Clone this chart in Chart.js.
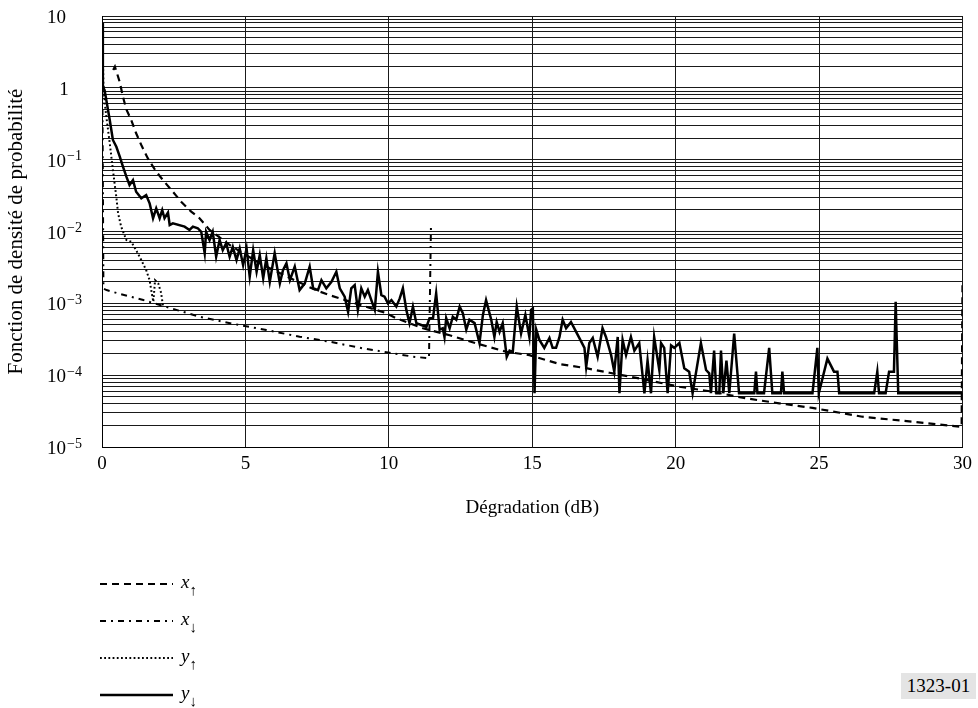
<!DOCTYPE html>
<html>
<head>
<meta charset="utf-8">
<script src="https://cdn.jsdelivr.net/npm/chart.js@4.4.0/dist/chart.umd.min.js"></script>
<style>
  body { margin: 0; background: #fff; }
  #wrap { position: relative; width: 978px; height: 708px; }
  #ref { position: absolute; left: 901px; top: 673px; width: 75px; height: 26px; background: #e4e4e4;
         font: 19px "Liberation Serif", serif; line-height: 26px; text-align: center; color: #000; }
</style>
</head>
<body>
<div id="wrap">
  <canvas id="pdf" width="978" height="708"></canvas>
  <div id="ref">1323-01</div>
</div>
<script>
const serif = '"Liberation Serif", "Times New Roman", serif';

// y axis decades and their labels (base + exponent)
const decadeValues = [10, 1, 0.1, 0.01, 0.001, 0.0001, 0.00001];
const decadeBase = ['10', '1', '10', '10', '10', '10', '10'];
const decadeExp = ['', '', '−1', '−2', '−3', '−4', '−5'];
const gridSteps = [1, 2, 3, 4, 5, 6, 7, 8, 9];

// series as [dB, density]
const xUp = [[0.39, 1.77], [0.45, 1.97], [0.62, 1.2], [0.73, 0.75], [0.85, 0.5], [1.02, 0.356], [1.19, 0.233],
  [1.37, 0.160], [1.60, 0.104], [1.89, 0.068], [2.18, 0.049], [2.47, 0.0358], [2.76, 0.026], [3.11, 0.0189],
  [3.40, 0.0153], [3.75, 0.0105], [4.5, 0.0063], [5.5, 0.0036], [6.5, 0.0023], [7.5, 0.0015], [7.94, 0.0013],
  [9.91, 7.3e-4], [10.26, 6.2e-4], [11.19, 4.5e-4], [11.42, 4.25e-4], [12.12, 3.6e-4], [13.05, 2.77e-4],
  [14.09, 2.12e-4], [14.90, 1.9e-4], [15.95, 1.43e-4], [16.88, 1.25e-4], [17.69, 1.08e-4], [18.73, 9.0e-5],
  [20.13, 6.9e-5], [21.28, 5.9e-5], [22.45, 4.76e-5], [23.61, 4.06e-5], [24.77, 3.5e-5], [26.51, 2.64e-5],
  [28.25, 2.25e-5], [29.97, 1.91e-5], [30, 2.0e-3]];

const xDown = [[0, 9], [0.05, 1.6e-3], [0.16, 1.53e-3], [0.63, 1.35e-3], [1.44, 1.11e-3], [2.13, 9.2e-4],
  [3.41, 6.5e-4], [4.56, 5.2e-4], [5.73, 4.25e-4], [6.89, 3.43e-4], [7.94, 2.92e-4], [9.10, 2.36e-4],
  [10.03, 2.05e-4], [10.84, 1.81e-4], [11.4, 1.72e-4], [11.47, 0.0127]];

const yUp = [[0, 7], [0.05, 1.2], [0.1, 0.6], [0.15, 0.40], [0.27, 0.17], [0.38, 0.072], [0.5, 0.030],
  [0.56, 0.018], [0.67, 0.0116], [0.85, 0.0076], [1.02, 0.0072], [1.19, 0.0055], [1.37, 0.0040],
  [1.54, 0.0029], [1.66, 0.0021], [1.72, 0.0015], [1.79, 0.00105], [1.85, 0.0021], [1.96, 0.0019],
  [2.06, 0.0014], [2.13, 0.0009]];

const yDown = [[0, 8], [0.03, 1.03], [0.09, 0.93], [0.15, 0.68], [0.27, 0.357], [0.38, 0.188], [0.50, 0.151],
  [0.62, 0.110], [0.73, 0.080], [0.85, 0.058], [0.96, 0.0444], [1.08, 0.052], [1.19, 0.0358], [1.37, 0.029],
  [1.54, 0.0322], [1.66, 0.0247], [1.78, 0.0153], [1.89, 0.021], [2.01, 0.0153], [2.10, 0.0199], [2.18, 0.0153],
  [2.30, 0.0183], [2.36, 0.0123], [2.47, 0.0130], [2.88, 0.0117], [3.05, 0.0105], [3.17, 0.0117], [3.34, 0.0111],
  [3.46, 0.0099], [3.58, 0.0050], [3.63, 0.0099], [3.75, 0.0076], [3.86, 0.0099], [3.98, 0.00446], [4.10, 0.0076],
  [4.21, 0.0055], [4.33, 0.00685], [4.45, 0.00446], [4.56, 0.0061], [4.69, 0.0040], [4.80, 0.0058], [4.92, 0.0034],
  [5.04, 0.0058], [5.15, 0.00235], [5.27, 0.0055], [5.39, 0.00275], [5.50, 0.0047], [5.62, 0.00223], [5.73, 0.00424],
  [5.85, 0.0020], [6.02, 0.0050], [6.20, 0.0019], [6.31, 0.0029], [6.43, 0.0036], [6.55, 0.0021], [6.72, 0.00324],
  [6.89, 0.00153], [7.07, 0.0019], [7.24, 0.00324], [7.36, 0.00162], [7.53, 0.00153], [7.65, 0.0021], [7.82, 0.00162],
  [8.00, 0.0020], [8.17, 0.00275], [8.29, 0.00162], [8.46, 0.00124], [8.58, 0.00076], [8.69, 0.00162], [8.81, 0.0018],
  [8.92, 0.00081], [9.04, 0.00162], [9.16, 0.00124], [9.27, 0.00153], [9.39, 0.00111], [9.51, 0.00081], [9.62, 0.00275],
  [9.74, 0.00130], [9.85, 0.00124], [9.97, 0.0010], [10.09, 0.00111], [10.26, 0.0009], [10.38, 0.00117], [10.49, 0.00162],
  [10.61, 0.00081], [10.72, 0.00053], [10.84, 0.0009], [10.96, 0.00053], [11.13, 0.00050], [11.31, 0.00047],
  [11.42, 0.00062], [11.54, 0.00062], [11.65, 0.00138], [11.77, 0.00043], [11.88, 0.00045], [11.94, 0.00034],
  [12.00, 0.00062], [12.12, 0.00045], [12.23, 0.00065], [12.35, 0.00059], [12.47, 0.0009], [12.58, 0.00073],
  [12.70, 0.00043], [12.81, 0.00059], [12.99, 0.00053], [13.16, 0.00028], [13.28, 0.00069], [13.39, 0.00111],
  [13.57, 0.00059], [13.68, 0.00034], [13.76, 0.00055], [13.86, 0.00040], [13.97, 0.00053], [14.11, 0.00018],
  [14.21, 0.00022], [14.32, 0.00021], [14.46, 0.0009], [14.61, 0.00038], [14.76, 0.00069], [14.90, 0.00034],
  [14.96, 0.00081], [15.02, 0.00085], [15.08, 0.000056], [15.14, 0.00043], [15.25, 0.00031], [15.42, 0.00024],
  [15.60, 0.00033], [15.71, 0.00024], [15.83, 0.00024], [15.95, 0.00034], [16.06, 0.00059], [16.18, 0.00045],
  [16.35, 0.00055], [16.53, 0.00040], [16.64, 0.00033], [16.82, 0.00024], [16.88, 0.00013], [16.99, 0.00028],
  [17.11, 0.00033], [17.28, 0.00018], [17.45, 0.00045], [17.57, 0.00034], [17.75, 0.00019], [17.86, 0.000112],
  [17.98, 0.00034], [18.04, 0.000056], [18.15, 0.00031], [18.27, 0.00019], [18.44, 0.00034], [18.56, 0.00022],
  [18.73, 0.00028], [18.91, 0.000056], [19.02, 0.00016], [19.14, 0.000056], [19.25, 0.00034], [19.43, 0.000118],
  [19.49, 0.00028], [19.60, 0.00024], [19.72, 0.000056], [19.84, 0.00026], [19.95, 0.00024], [20.13, 0.00028],
  [20.30, 0.000125], [20.47, 0.000112], [20.59, 0.000056], [20.88, 0.00028], [21.06, 0.000118], [21.17, 0.000106],
  [21.23, 0.000056], [21.34, 0.00022], [21.42, 0.000056], [21.52, 0.000056], [21.58, 0.00022], [21.66, 0.000056],
  [21.77, 0.00016], [21.87, 0.000056], [22.04, 0.00038], [22.21, 0.000056], [22.74, 0.000056], [22.80, 0.000112],
  [22.85, 0.000056], [23.08, 0.000056], [23.26, 0.00024], [23.37, 0.000056], [23.67, 0.000056], [23.72, 0.000112],
  [23.78, 0.000056], [24.77, 0.000056], [24.94, 0.00024], [24.99, 0.000056], [25.29, 0.00017], [25.52, 0.000112],
  [25.64, 0.000112], [25.70, 0.000056], [26.92, 0.000056], [27.03, 0.000112], [27.09, 0.000056], [27.32, 0.000056],
  [27.44, 0.000112], [27.61, 0.000112], [27.67, 0.00105], [27.76, 0.000056], [30, 0.000056]];

const seriesNames = ['x', 'x', 'y', 'y'];
const seriesArrows = ['↑', '↓', '↑', '↓'];

const toPoints = (arr) => arr.map(([x, y]) => ({ x, y }));

const datasets = [
  { label: 'x↑', data: toPoints(xUp), borderColor: '#000', borderWidth: 2.2, borderDash: [7, 5], order: 3 },
  { label: 'x↓', data: toPoints(xDown), borderColor: '#000', borderWidth: 2, borderDash: [6, 5, 2, 5], order: 2 },
  { label: 'y↑', data: toPoints(yUp), borderColor: '#000', borderWidth: 2, borderDash: [1.8, 2.4], order: 1 },
  { label: 'y↓', data: toPoints(yDown), borderColor: '#000', borderWidth: 2.5, borderDash: [], order: 0 },
];

// draws the y decade labels with superscripts and the legend block under the chart
const extrasPlugin = {
  id: 'extras',
  afterDraw(chart) {
    const { ctx } = chart;
    const yScale = chart.scales.y;
    ctx.save();
    ctx.fillStyle = '#000';
    ctx.textBaseline = 'alphabetic';
    decadeValues.forEach((v, i) => {
      const py = yScale.getPixelForValue(v);
      ctx.font = '19px ' + serif;
      if (decadeBase[i] === '1') {
        ctx.textAlign = 'center';
        ctx.fillText('1', 64, py + 7);
        return;
      }
      ctx.textAlign = 'left';
      ctx.fillText(decadeBase[i], 47, py + 7);
      if (decadeExp[i]) {
        const w = ctx.measureText(decadeBase[i]).width;
        ctx.font = '14px ' + serif;
        ctx.fillText(decadeExp[i], 47 + w + 1, py + 0.5);
      }
    });

    const rows = [584, 621, 658, 695];
    chart.data.datasets.forEach((ds, i) => {
      const y = rows[i];
      ctx.beginPath();
      ctx.setLineDash(ds.borderDash);
      ctx.lineWidth = ds.borderWidth;
      ctx.strokeStyle = '#000';
      ctx.moveTo(100, y);
      ctx.lineTo(173, y);
      ctx.stroke();
      ctx.setLineDash([]);
      ctx.textAlign = 'left';
      ctx.font = 'italic 19px ' + serif;
      ctx.fillText(seriesNames[i], 181, y + 4);
      const w = ctx.measureText(seriesNames[i]).width;
      ctx.font = '15px ' + serif;
      ctx.fillText(seriesArrows[i], 181 + w, y + 11);
    });
    ctx.restore();
  },
};

new Chart(document.getElementById('pdf'), {
  type: 'line',
  data: { datasets },
  options: {
    responsive: false,
    animation: false,
    devicePixelRatio: 1,
    layout: { padding: { left: 2, top: 16, right: 15, bottom: 185 } },
    elements: { point: { radius: 0 }, line: { tension: 0, fill: false } },
    plugins: { legend: { display: false }, tooltip: { enabled: false } },
    scales: {
      x: {
        type: 'linear',
        min: 0,
        max: 30,
        ticks: { stepSize: 5, color: '#000', padding: 6, font: { family: serif, size: 19 } },
        grid: { color: '#1a1a1a', lineWidth: 1, drawTicks: false },
        border: { color: '#000', width: 1 },
        title: { display: true, text: 'Dégradation (dB)', color: '#000', font: { family: serif, size: 19 } },
        afterFit(scale) { scale.height = 76; },
      },
      y: {
        type: 'logarithmic',
        min: 1e-5,
        max: 10,
        afterBuildTicks(scale) {
          const ticks = [];
          decadeValues.slice(1).reverse().forEach((d) => {
            gridSteps.forEach((s) => ticks.push({ value: s * d }));
          });
          ticks.push({ value: 10 });
          scale.ticks = ticks;
        },
        ticks: { display: false, autoSkip: false },
        grid: { color: '#1a1a1a', lineWidth: 1, drawTicks: false },
        border: { color: '#000', width: 1 },
        title: { display: true, text: 'Fonction de densité de probabilité', color: '#000',
                 padding: { top: 2, bottom: 4 }, font: { family: serif, size: 21 } },
        afterFit(scale) { scale.width = 100; },
      },
    },
  },
  plugins: [extrasPlugin],
});
</script>
</body>
</html>
